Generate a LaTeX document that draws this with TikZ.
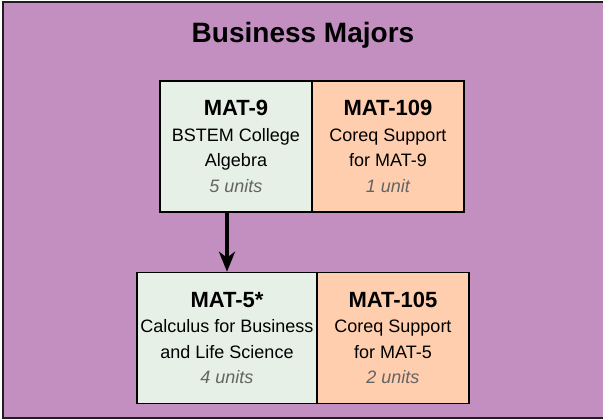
\documentclass[tikz,border=0pt]{standalone}
\usepackage{fontspec}
\setmainfont{Liberation Sans}
\usetikzlibrary{arrows.meta}
\definecolor{majorbg}{RGB}{195,143,192}
\definecolor{framegray}{RGB}{30,30,30}
\definecolor{coursegreen}{RGB}{230,240,230}
\definecolor{coreqpeach}{RGB}{255,206,174}
\definecolor{unitgray}{RGB}{100,100,100}
\newcommand{\course}[1]{{\bfseries\fontsize{22}{25.5}\selectfont #1}}
\newcommand{\units}[1]{{\itshape\color{unitgray}#1}}

\begin{document}
\begin{tikzpicture}[x=1pt, y=-1pt,
    course/.style={draw, line width=1.5pt, fill=coursegreen, minimum width=152pt,
        minimum height=131pt, align=center, inner sep=0pt,
        font=\fontsize{18}{25.5}\selectfont},
    coreq/.style={course, fill=coreqpeach}]
    \useasboundingbox (0,0) rectangle (603,419);
    \draw[line width=2pt, draw=framegray, fill=majorbg] (2.5,2.5) rectangle (640,418);

    \node[anchor=base, font=\bfseries\fontsize{28}{30}\selectfont] (title) at (303,43) {Business Majors};

    \node[course]                      (mat9)   at (236,146.3) {\course{MAT-9}\\BSTEM College\\Algebra\\\units{5 units}};
    \node[coreq]                       (mat109) at (388,146.3) {\course{MAT-109}\\Coreq Support\\for MAT-9\\\units{1 unit}};
    \node[course, minimum width=180pt] (mat5)   at (227,338)   {\course{MAT-5*}\\Calculus for Business\\and Life Science\\\units{4 units}};
    \node[coreq]                       (mat105) at (393,338)   {\course{MAT-105}\\Coreq Support\\for MAT-5\\\units{2 units}};

    \draw[line width=3.5pt, -{Stealth[length=20pt, width=16pt, inset=6pt]}] (mat9.south -| mat5.north) -- (mat5.north);
\end{tikzpicture}
\end{document}
